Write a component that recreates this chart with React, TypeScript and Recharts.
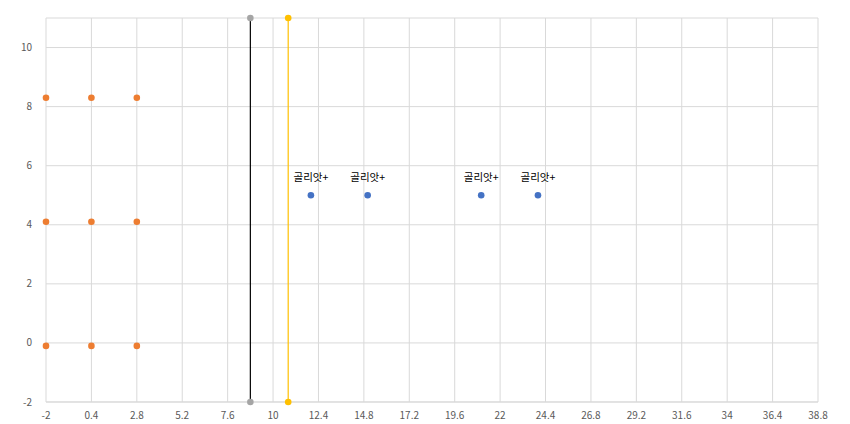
import React from "react";
import { ScatterChart, Scatter, XAxis, YAxis, CartesianGrid, LabelList } from "recharts";

const xTicks = [-2, 0.4, 2.8, 5.2, 7.6, 10, 12.4, 14.8, 17.2, 19.6, 22, 24.4, 26.8, 29.2, 31.6, 34, 36.4, 38.8];
const yTicks = [-2, 0, 2, 4, 6, 8, 10];

const orangeX = [-2, 0.4, 2.8, -2, 0.4, 2.8, -2, 0.4, 2.8];
const orangeY = [8.3, 8.3, 8.3, 4.1, 4.1, 4.1, -0.1, -0.1, -0.1];

const grayLineX = [8.8, 8.8];
const grayLineY = [-2, 11];
const yellowLineX = [10.8, 10.8];
const yellowLineY = [-2, 11];

const blueX = [12, 15, 21, 24];
const blueY = [5, 5, 5, 5];
const blueLabels = ["골리앗+", "골리앗+", "골리앗+", "골리앗+"];

const orangeData = orangeX.map((x, i) => ({ x, y: orangeY[i] }));
const grayData = grayLineX.map((x, i) => ({ x, y: grayLineY[i] }));
const yellowData = yellowLineX.map((x, i) => ({ x, y: yellowLineY[i] }));
const blueData = blueX.map((x, i) => ({ x, y: blueY[i], label: blueLabels[i] }));

const font = "'Noto Sans CJK KR', 'Open Sans', sans-serif";

const dot = (color: string) => (p: any) => <circle cx={p.cx} cy={p.cy} r={3.3} fill={color} />;

export default function App() {
  return (
    <div style={{ width: 834, height: 416, fontFamily: font }}>
      <ScatterChart width={834} height={416} margin={{ top: 10, right: 24, left: 0, bottom: 0 }}>
        <CartesianGrid stroke="#d9d9d9" strokeWidth={1} />
        <XAxis
          type="number"
          dataKey="x"
          domain={[-2, 38.8]}
          ticks={xTicks}
          interval={0}
          height={22}
          tickLine={false}
          axisLine={{ stroke: "#d9d9d9" }}
          tick={{ fill: "#595959", fontSize: 10, fontFamily: font }}
          tickMargin={4}
        />
        <YAxis
          type="number"
          dataKey="y"
          domain={[-2, 11]}
          ticks={yTicks}
          interval={0}
          width={38}
          tickLine={false}
          axisLine={false}
          tick={{ fill: "#595959", fontSize: 10, fontFamily: font }}
          tickMargin={8}
        />
        <Scatter data={orangeData} fill="#ED7D31" isAnimationActive={false} shape={dot("#ED7D31")} />
        <Scatter data={grayData} fill="#A5A5A5" line={{ stroke: "#000000", strokeWidth: 1.2 }} isAnimationActive={false} shape={dot("#A5A5A5")} />
        <Scatter data={yellowData} fill="#FFC000" line={{ stroke: "#FFC000", strokeWidth: 1.2 }} isAnimationActive={false} shape={dot("#FFC000")} />
        <Scatter data={blueData} fill="#4472C4" isAnimationActive={false} shape={dot("#4472C4")}>
          <LabelList dataKey="label" position="top" offset={10} fill="#000000" fontSize={10.5} fontFamily={font} />
        </Scatter>
      </ScatterChart>
    </div>
  );
}
